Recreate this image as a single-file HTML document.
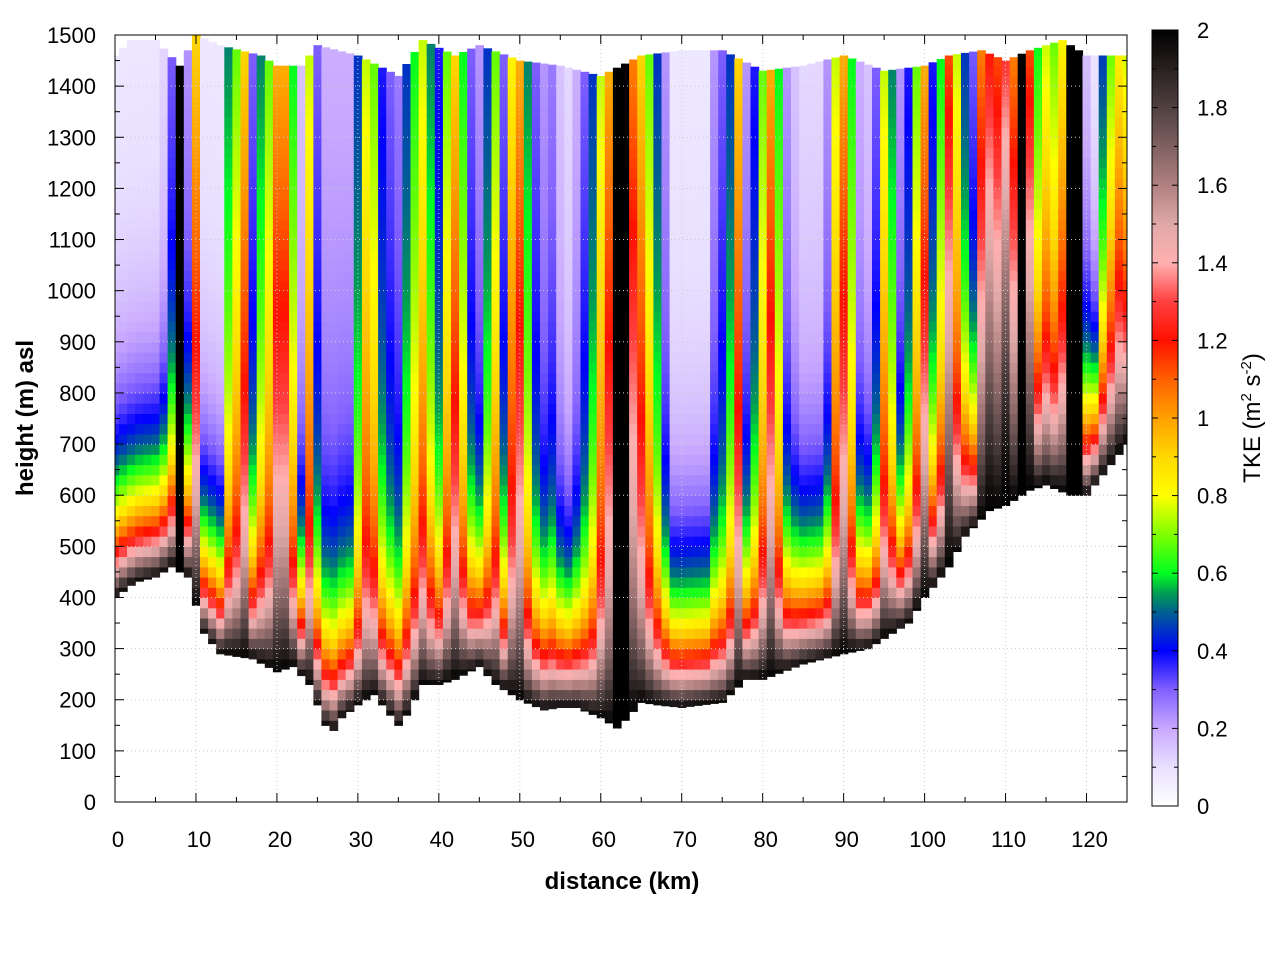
<!DOCTYPE html>
<html><head><meta charset="utf-8"><style>
body{margin:0;background:#fff;}
svg text{font-family:"Liberation Sans",sans-serif;}
</style></head><body>
<svg id="chart" width="1280" height="960" xmlns="http://www.w3.org/2000/svg">
<defs>
<linearGradient id="cbgrad" x1="0" y1="1" x2="0" y2="0"></linearGradient>
<clipPath id="plotclip"><rect x="115" y="35" width="1012" height="767"/></clipPath>
</defs>
<g id="cells" clip-path="url(#plotclip)"></g>
<g id="grid"></g>
<g id="axes"></g>
<text x="622" y="889" text-anchor="middle" font-size="24" font-weight="bold">distance (km)</text>
<text transform="translate(33,418) rotate(-90)" text-anchor="middle" font-size="24" font-weight="bold">height (m) asl</text>
<rect x="1152" y="30" width="26" height="776" fill="url(#cbgrad)" stroke="#000" stroke-width="1"/>
<g id="cbaxis"></g>
<text transform="translate(1260,418) rotate(-90)" text-anchor="middle" font-size="24">TKE (m<tspan font-size="15" dy="-9">2</tspan><tspan dy="9"> s</tspan><tspan font-size="15" dy="-9">-2</tspan><tspan dy="9">)</tspan></text>
</svg>
<script>
const distances = [];
for (let i = 0; i <= 125; i++) distances.push(i);
const groundKm = [0,2.5,5,7,9,11,13,15,17,20,22,24,26,27,28,30,32,33,35,36,38,40,42,45,47,50,53,55,57,60,62,63,65,67,70,75,78,80,85,90,93,95,98,100,103,105,108,110,113,115,118,120,122,125];
const groundM = [400,430,440,460,440,330,290,285,280,255,265,230,150,140,165,190,210,190,150,170,230,230,240,265,230,200,180,185,185,165,145,160,195,190,185,195,240,240,270,290,300,320,350,400,460,520,570,580,610,620,600,600,640,700];
const topKm = [0,2,5,8,10,13,18,20,23,25,30,35,38,42,45,50,55,60,65,70,75,80,85,90,95,100,103,107,110,113,117,120,125];
const topM = [1460,1490,1490,1440,1500,1480,1460,1440,1440,1480,1460,1420,1490,1460,1480,1450,1440,1420,1460,1470,1470,1430,1440,1460,1430,1440,1460,1470,1450,1470,1490,1460,1460];
const upperTKE = [0.1,0.1,0.1,0.1,0.1,0.1,0.15,0.4,2.0,0.3,1.2,0.1,0.1,0.1,0.7,0.9,1.2,0.4,0.7,0.9,
1.3,1.3,0.8,0.2,1.0,0.4,0.25,0.25,0.25,0.25,0.6,1.0,0.9,0.5,0.4,0.35,0.6,0.8,1.0,0.7,
0.5,0.9,1.2,0.8,0.4,0.3,0.6,0.9,0.4,1.1,1.3,0.7,0.4,0.3,0.35,0.2,0.15,0.25,0.4,0.6,
1.0,1.3,2.0,2.0,1.4,1.2,0.9,0.6,0.3,0.1,0.1,0.1,0.1,0.1,0.3,0.4,0.6,1.2,0.3,0.5,
0.9,1.3,0.8,0.3,0.2,0.15,0.15,0.15,0.3,1.0,1.3,0.8,0.25,0.2,0.4,1.0,0.7,0.3,0.5,0.9,
1.3,0.5,0.8,1.5,1.0,0.6,0.4,1.4,1.6,1.5,1.7,1.4,2.0,1.5,0.8,1.0,0.9,1.1,2.0,2.0,
0.2,0.1,0.6,0.9,1.1,1.0];
const xTicks = [0,10,20,30,40,50,60,70,80,90,100,110,120];
const yTicks = [0,100,200,300,400,500,600,700,800,900,1000,1100,1200,1300,1400,1500];
const cbTicks = [0,0.2,0.4,0.6,0.8,1,1.2,1.4,1.6,1.8,2];
const cmapV = [0,0.1,0.2,0.3,0.4,0.5,0.55,0.6,0.7,0.8,0.9,1.0,1.1,1.2,1.3,1.4,1.5,1.6,1.8,2.0];
const cmapC = ["#ffffff","#e8e0ff","#c8a8ff","#8060ff","#0000ff","#006090","#00a050","#00ff20","#80ff00","#ffff00","#ffd800","#ffa000","#ff6000","#ff1000","#ff4040","#ffb0b0","#e0a8a8","#b08080","#504040","#000000"];

const NS="http://www.w3.org/2000/svg";
const X0=115,X1=1127,Y0=802,Y1=35;
const xs=v=>X0+(v/125)*(X1-X0);
const ys=v=>Y0-(v/1500)*(Y0-Y1);
function interp(xa,ya,x){for(let i=0;i<xa.length-1;i++){if(x<=xa[i+1]){const t=(x-xa[i])/(xa[i+1]-xa[i]);return ya[i]+t*(ya[i+1]-ya[i]);}}return ya[ya.length-1];}
function hex(c){return [parseInt(c.slice(1,3),16),parseInt(c.slice(3,5),16),parseInt(c.slice(5,7),16)];}
function color(v){v=Math.max(0,Math.min(2,v));for(let i=0;i<cmapV.length-1;i++){if(v<=cmapV[i+1]){const t=(v-cmapV[i])/(cmapV[i+1]-cmapV[i]);const a=hex(cmapC[i]),b=hex(cmapC[i+1]);return `rgb(${Math.round(a[0]+t*(b[0]-a[0]))},${Math.round(a[1]+t*(b[1]-a[1]))},${Math.round(a[2]+t*(b[2]-a[2]))})`;}}return "#000";}
function mk(tag,attrs,parent){const e=document.createElementNS(NS,tag);for(const k in attrs)e.setAttribute(k,attrs[k]);parent.appendChild(e);return e;}

const cells=document.getElementById('cells');
const dz=20;
for(let i=0;i<distances.length;i++){
  const d=distances[i];
  const g=interp(groundKm,groundM,d), top=interp(topKm,topM,d), u=upperTKE[i];
  const x=xs(d-0.5), w=xs(d+0.5)-x+0.6;
  for(let h=Math.floor(g/dz)*dz;h<top;h+=dz){
    const lo=Math.max(h,g), hi=Math.min(h+dz,top);
    const mid=(lo+hi)/2;
    const frac=(mid-g)/Math.max(1,top-g);
    const ue=u>=1.95?u:u*(1.15-0.4*frac);
    const v=ue+(2-ue)*Math.exp(-(mid-g)/170);
    const r=mk('rect',{x:x.toFixed(1),y:ys(hi).toFixed(1),width:w.toFixed(1),height:(ys(lo)-ys(hi)+0.6).toFixed(1),fill:color(v)},cells);
    
    
  }
}
const grid=document.getElementById('grid');
xTicks.forEach(t=>{if(t>0){const l=mk('line',{x1:xs(t),x2:xs(t),y1:Y0,y2:Y1,stroke:'#ccc','stroke-dasharray':'1,3','stroke-width':1},grid);}});
yTicks.forEach(t=>{if(t>0&&t<1500){const l=mk('line',{x1:X0,x2:X1,y1:ys(t),y2:ys(t),stroke:'#ccc','stroke-dasharray':'1,3','stroke-width':1},grid);}});
const ax=document.getElementById('axes');
mk('rect',{x:X0,y:Y1,width:X1-X0,height:Y0-Y1,fill:'none',stroke:'#000','stroke-width':1},ax);
for(let t=0;t<=125;t+=5){const L=t%10===0?9:5;mk('line',{x1:xs(t),x2:xs(t),y1:Y0,y2:Y0-L,stroke:'#000'},ax);mk('line',{x1:xs(t),x2:xs(t),y1:Y1,y2:Y1+L,stroke:'#000'},ax);}
for(let t=0;t<=1500;t+=50){const L=t%100===0?9:5;mk('line',{x1:X0,x2:X0+L,y1:ys(t),y2:ys(t),stroke:'#000'},ax);mk('line',{x1:X1,x2:X1-L,y1:ys(t),y2:ys(t),stroke:'#000'},ax);}
xTicks.forEach(t=>{const e=mk('text',{x:xs(t)+3,y:Y0+45,'text-anchor':'middle','font-size':22},ax);e.textContent=t;});
yTicks.forEach(t=>{const e=mk('text',{x:X0-19,y:ys(t)+8,'text-anchor':'end','font-size':22},ax);e.textContent=t;});
const grad=document.getElementById('cbgrad');
cmapV.forEach((v,i)=>mk('stop',{offset:(v/2),'stop-color':cmapC[i]},grad));
const cb=document.getElementById('cbaxis');
const cy=v=>806-(v/2)*776;
for(let t=0;t<=2.0001;t+=0.1){const L=Math.round(t*10)%2===0?6:4;mk('line',{x1:1152,x2:1152+L,y1:cy(t),y2:cy(t),stroke:'#000'},cb);mk('line',{x1:1178,x2:1178-L,y1:cy(t),y2:cy(t),stroke:'#000'},cb);}
cbTicks.forEach(t=>{const e=mk('text',{x:1197,y:cy(t)+8,'font-size':22},cb);e.textContent=t;});
</script>
</body></html>
